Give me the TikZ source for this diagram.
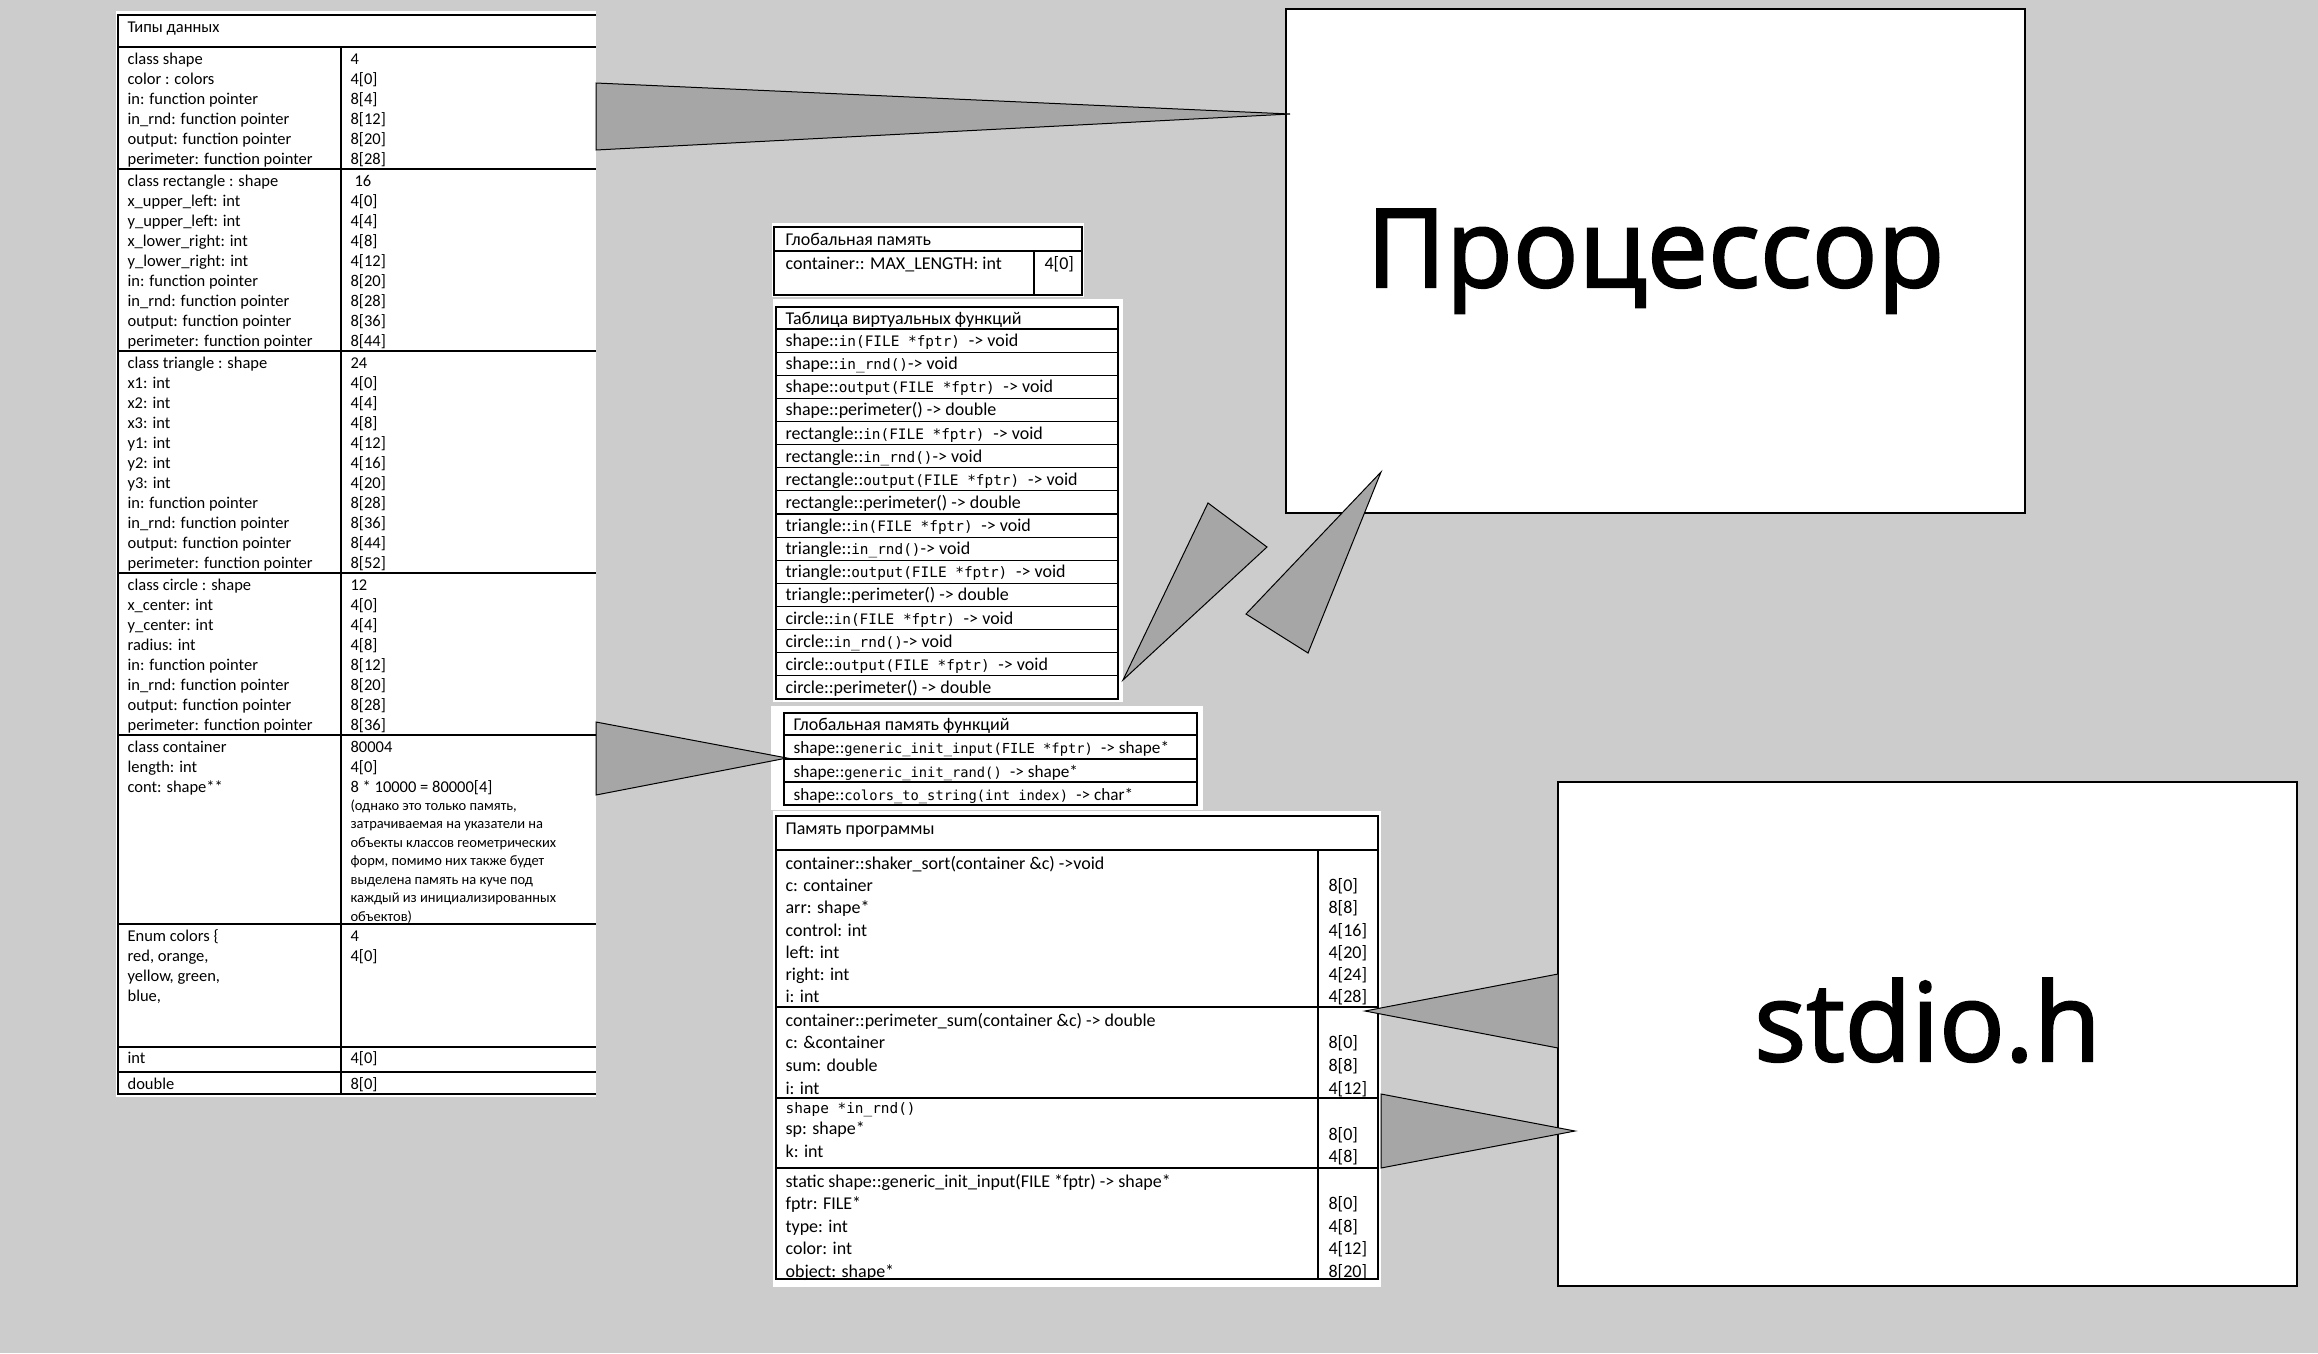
\documentclass[tikz,border=0pt]{standalone}
\usepackage{fontspec}
\setmainfont{Carlito}
\newfontfamily\codefont[Scale=0.8]{DejaVu Sans Mono}
\newfontfamily\bigfont[FakeBold=2]{Open Sans}
\usetikzlibrary{positioning}
\definecolor{canvas}{HTML}{CCCCCC}
\definecolor{wedgegray}{HTML}{A6A6A6}
\newcommand{\cf}[1]{{\codefont #1}}
\tikzset{
  cell/.style={anchor=base west, inner sep=0pt, font=\fontsize{16.5}{20}\selectfont},
  notecell/.style={anchor=base west, inner sep=0pt, font=\fontsize{14.5}{18}\selectfont},
  mcell/.style={anchor=base west, inner sep=0pt, font=\fontsize{18}{22}\selectfont},
  fcell/.style={anchor=base west, inner sep=0pt, font=\fontsize{17.2}{22}\selectfont},
  pastebg/.style={fill=white},
  tblline/.style={draw=black, line width=1.2pt},
  bigbox/.style={draw=black, fill=white, line width=1.3pt, minimum width=739pt, minimum height=504pt, inner sep=0pt},
  biglabel/.style={anchor=base, inner sep=0pt, font=\bigfont\fontsize{109}{120}\selectfont},
  wedgefill/.style={fill=wedgegray, draw=black, line width=1pt, line join=miter}
}
\begin{document}
\begin{tikzpicture}[x=1pt, y=-1pt, line width=1.2pt]
  \useasboundingbox (0,0) rectangle (2318,1353);
  \fill[canvas] (0,0) rectangle (2318,1353);

  % data types
  \fill[pastebg] (116,11) rectangle (596,1097);
  \draw[tblline] (596,15) -- (118,15) -- (118,1094) -- (596,1094);
  \draw[tblline] (341,47) -- (341,1094);
  \foreach \yy in {47,169,351,573,735,924,1047,1072}
    \draw[tblline] (118,\yy) -- (596,\yy);
  \node[cell] (types) at (127,32) {Типы данных};

  \foreach \nm/\sz [count=\i from 0] in {class shape/4, color : colors/4[0], in: function pointer/8[4], in\_rnd: function pointer/8[12], output: function pointer/8[20], perimeter: function pointer/8[28]} {
    \node[cell] (shp-n\i) at (127,64+20*\i) {\nm};
    \node[cell] (shp-s\i) at (350,64+20*\i) {\sz};
  }
  \foreach \nm/\sz [count=\i from 0] in {class rectangle : shape/\kern4pt 16, x\_upper\_left: int/4[0], y\_upper\_left: int/4[4], x\_lower\_right: int/4[8], y\_lower\_right: int/4[12], in: function pointer/8[20], in\_rnd: function pointer/8[28], output: function pointer/8[36], perimeter: function pointer/8[44]} {
    \node[cell] (rect-n\i) at (127,186+20*\i) {\nm};
    \node[cell] (rect-s\i) at (350,186+20*\i) {\sz};
  }
  \foreach \nm/\sz [count=\i from 0] in {class triangle : shape/24, x1: int/4[0], x2: int/4[4], x3: int/4[8], y1: int/4[12], y2: int/4[16], y3: int/4[20], in: function pointer/8[28], in\_rnd: function pointer/8[36], output: function pointer/8[44], perimeter: function pointer/8[52]} {
    \node[cell] (tri-n\i) at (127,368+20*\i) {\nm};
    \node[cell] (tri-s\i) at (350,368+20*\i) {\sz};
  }
  \foreach \nm/\sz [count=\i from 0] in {class circle : shape/12, x\_center: int/4[0], y\_center: int/4[4], radius: int/4[8], in: function pointer/8[12], in\_rnd: function pointer/8[20], output: function pointer/8[28], perimeter: function pointer/8[36]} {
    \node[cell] (circ-n\i) at (127,590+20*\i) {\nm};
    \node[cell] (circ-s\i) at (350,590+20*\i) {\sz};
  }
  \foreach \nm/\sz [count=\i from 0] in {class container/80004, length: int/4[0], cont: shape**/8 * 10000 = 80000[4]} {
    \node[cell] (cont-n\i) at (127,752+20*\i) {\nm};
    \node[cell] (cont-s\i) at (350,752+20*\i) {\sz};
  }
  \foreach \ln [count=\i from 0] in {{(однако это только память,}, {затрачиваемая на указатели на}, {объекты классов геометрических}, {форм, помимо них также будет}, {выделена память на куче под}, {каждый из инициализированных}, {объектов)}} {
    \node[notecell] (note\i) at (350,810+18.5*\i) {\ln};
  }
  \node[cell] (enum-n0) at (127,941) {Enum colors \{};
  \node[cell] (enum-n1) at (127,961) {red, orange,};
  \node[cell] (enum-n2) at (127,981) {yellow, green,};
  \node[cell] (enum-n3) at (127,1001) {blue,};
  \node[cell] (enum-s0) at (350,941) {4};
  \node[cell] (enum-s1) at (350,961) {4[0]};
  \node[cell] (int-n) at (127,1063) {int};
  \node[cell] (int-s) at (350,1063) {4[0]};
  \node[cell] (dbl-n) at (127,1089) {double};
  \node[cell] (dbl-s) at (350,1089) {8[0]};

  % global memory
  \fill[pastebg] (772,223) rectangle (1084,297);
  \draw[tblline] (774,227) rectangle (1082,295);
  \draw[tblline] (774,251) -- (1082,251);
  \draw[tblline] (1034,251) -- (1034,295);
  \node[mcell] (gm-head) at (785,245) {Глобальная память};
  \node[mcell] (gm-max) at (785,269) {container:: MAX\_LENGTH: int};
  \node[mcell] (gm-size) at (1044,269) {4[0]};

  % virtual table
  \fill[pastebg] (773,299) rectangle (1123,702);
  \draw[tblline] (776,307) rectangle (1118,699);
  \foreach \k in {0,...,15}
    \draw[tblline] (776,329+23.125*\k) -- (1118,329+23.125*\k);
  \node[mcell] (vt-head) at (785,324) {Таблица виртуальных функций};
  \foreach \cls [count=\c from 0] in {shape,rectangle,triangle,circle} {
    \node[mcell] (vt-\cls-in) at (785,346.5+92.5*\c) {\cls::\cf{in(FILE *fptr) }-> void};
    \node[mcell] (vt-\cls-rnd) at (785,369.6+92.5*\c) {\cls::\cf{in\_rnd()}-> void};
    \node[mcell] (vt-\cls-out) at (785,392.7+92.5*\c) {\cls::\cf{output(FILE *fptr) }-> void};
    \node[mcell] (vt-\cls-per) at (785,415.9+92.5*\c) {\cls::perimeter() -> double};
  }

  % global functions
  \fill[pastebg] (771,706) rectangle (1203,810);
  \draw[tblline] (784,713) rectangle (1197,805);
  \foreach \yy in {735,759,782}
    \draw[tblline] (784,\yy) -- (1197,\yy);
  \node[mcell] (fg-head) at (793,730) {Глобальная память функций};
  \node[fcell] (fg-input) at (793,753) {shape::\cf{generic\_init\_input(FILE *fptr) }-> shape*};
  \node[fcell] (fg-rand) at (793,777) {shape::\cf{generic\_init\_rand() }-> shape*};
  \node[fcell] (fg-str) at (793,800) {shape::\cf{colors\_to\_string(int index) }-> char*};

  % program memory
  \fill[pastebg] (773,811) rectangle (1381,1287);
  \draw[tblline] (776,816) rectangle (1378,1279);
  \draw[tblline] (776,850) -- (1378,850);
  \draw[tblline] (1318,850) -- (1318,1279);
  \foreach \yy in {1007,1098,1168}
    \draw[tblline] (776,\yy) -- (1378,\yy);
  \node[mcell] (pm-head) at (785,834) {Память программы};
  \node[mcell] (sort) at (785,869) {container::shaker\_sort(container \&c) ->void};
  \foreach \nm/\sz [count=\i] in {c: container/8[0], arr: shape*/8[8], control: int/4[16], left: int/4[20], right: int/4[24], i: int/4[28]} {
    \node[mcell] (sort-n\i) at (785,869+22.33*\i) {\nm};
    \node[mcell] (sort-s\i) at (1328,869+22.33*\i) {\sz};
  }
  \node[mcell] (psum) at (785,1026) {container::perimeter\_sum(container \&c) -> double};
  \foreach \nm/\sz [count=\i] in {c: \&container/8[0], sum: double/8[8], i: int/4[12]} {
    \node[mcell] (psum-n\i) at (785,1026+22.7*\i) {\nm};
    \node[mcell] (psum-s\i) at (1328,1026+22.7*\i) {\sz};
  }
  \node[mcell] (rnd) at (785,1113) {\cf{shape *in\_rnd()}};
  \node[mcell] (rnd-n1) at (785,1134) {sp: shape*};
  \node[mcell] (rnd-n2) at (785,1157) {k: int};
  \node[mcell] (rnd-s1) at (1328,1140) {8[0]};
  \node[mcell] (rnd-s2) at (1328,1162) {4[8]};
  \node[mcell] (gen) at (785,1187) {static shape::generic\_init\_input(FILE *fptr) -> shape*};
  \foreach \nm/\sz [count=\i] in {fptr: FILE*/8[0], type: int/4[8], color: int/4[12], object: shape*/8[20]} {
    \node[mcell] (gen-n\i) at (785,1187+22.5*\i) {\nm};
    \node[mcell] (gen-s\i) at (1328,1187+22.5*\i) {\sz};
  }

  % processor and stdio.h
  \node[bigbox] (cpu) at (1655.5,261) {};
  \node[biglabel] (cpu-label) at ([yshift=-26pt]cpu.center) {Процессор};
  \node[bigbox] (stdio) at (1927.5,1034) {};
  \node[biglabel] (stdio-label) at ([yshift=-27pt]stdio.center) {stdio.h};

  % wedges
  \coordinate (typesA) at (596,83);
  \coordinate (typesB) at (596,150);
  \coordinate (cpuTip) at (1290,114);
  \coordinate (contA) at (596,722);
  \coordinate (contB) at (596,795);
  \coordinate (fgTip) at (787,758);
  \coordinate (vtTip) at (1123,680);
  \coordinate (vtA) at (1208,503);
  \coordinate (vtB) at (1267,547);
  \coordinate (cpuA) at (1381,472);
  \coordinate (cpuB) at (1246,614);
  \coordinate (cpuC) at (1308,653);
  \coordinate (pmTip) at (1365,1011);
  \coordinate (ioA) at (1558,974);
  \coordinate (ioB) at (1558,1048);
  \coordinate (pmA) at (1381,1094);
  \coordinate (pmB) at (1381,1168);
  \coordinate (ioTip) at (1575,1131);
  \filldraw[wedgefill] (typesA) -- (cpuTip) -- (typesB) -- cycle;
  \filldraw[wedgefill] (contA) -- (fgTip) -- (contB) -- cycle;
  \filldraw[wedgefill] (vtTip) -- (vtA) -- (vtB) -- cycle;
  \filldraw[wedgefill] (cpuA) -- (cpuB) -- (cpuC) -- cycle;
  \filldraw[wedgefill] (pmTip) -- (ioA) -- (ioB) -- cycle;
  \filldraw[wedgefill] (pmA) -- (ioTip) -- (pmB) -- cycle;
\end{tikzpicture}
\end{document}
